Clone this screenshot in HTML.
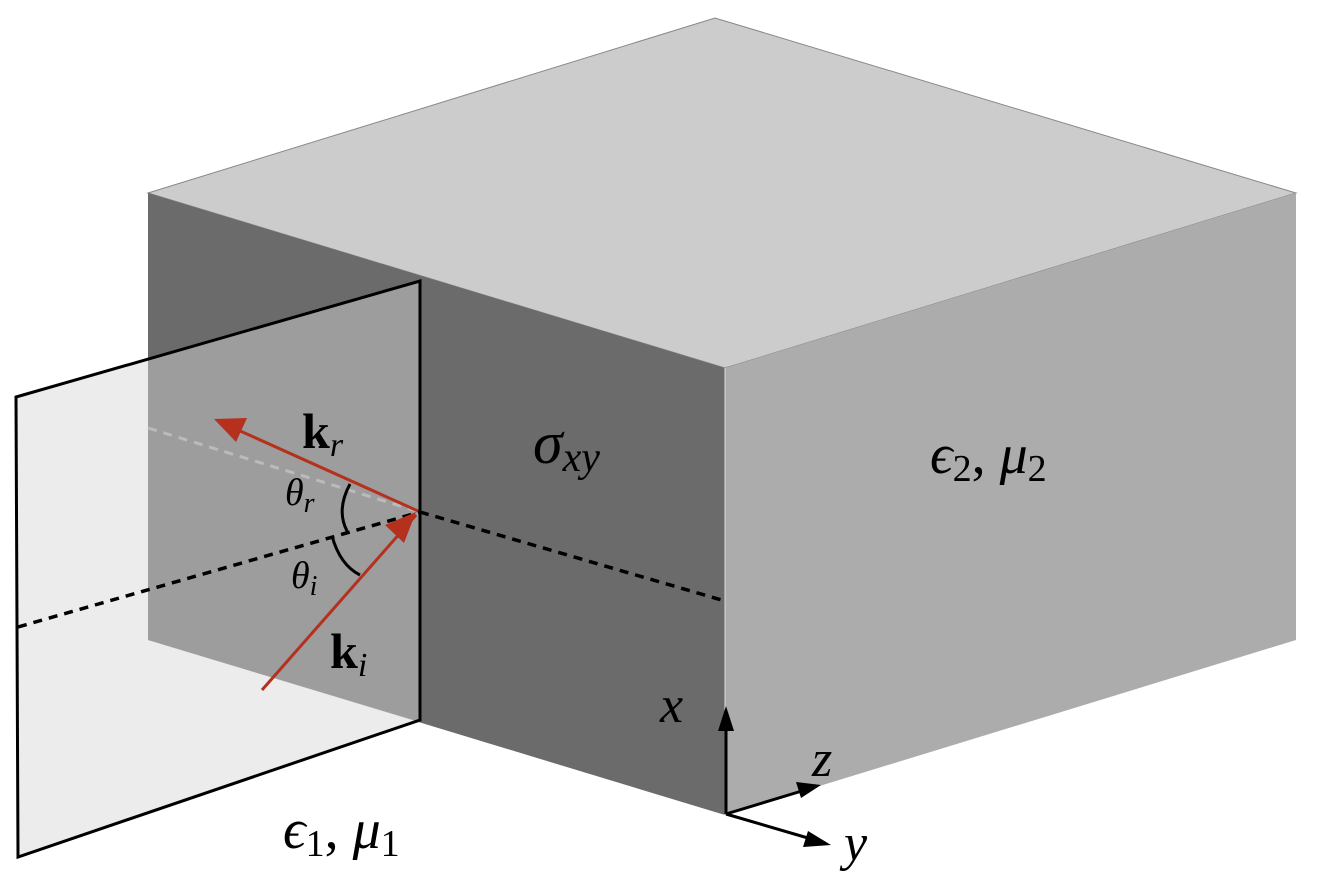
<!DOCTYPE html>
<html><head><style>body{margin:0;background:#fff}svg{display:block}</style></head>
<body>
<svg width="1318" height="891" viewBox="0 0 1318 891" xmlns="http://www.w3.org/2000/svg">
<defs>
<marker id="ar" viewBox="0 0 10 10" refX="9" refY="5" markerWidth="8" markerHeight="8" markerUnits="userSpaceOnUse" orient="auto"><path d="M0,0 L10,5 L0,10 L2.5,5 z" fill="#b5301d"/></marker>
<marker id="ab" viewBox="0 0 10 10" refX="9" refY="5" markerWidth="8" markerHeight="8" orient="auto"><path d="M0,0 L10,5 L0,10 L2.5,5 z" fill="#000"/></marker>
</defs>
<polygon points="148,193 715,18 1296,193 725,368" fill="#cccccc" stroke="#888" stroke-width="1"/>
<polygon points="148,193 725,368 725,815 148,640" fill="#6b6b6b"/>
<polygon points="725,368 1296,193 1296,640 725,815" fill="#acacac"/>
<line x1="725" y1="368" x2="725" y2="815" stroke="#ddd" stroke-width="1"/>
<polygon points="16,397 420,281 420,720 18,857" fill="#e6e6e6" fill-opacity="0.75"/>
<polygon points="148,358 420,281 420,722 148,640" fill="#9d9d9d"/>
<polygon points="16,397 420,281 420,720 18,857" fill="none" stroke="#000" stroke-width="3"/>
<line x1="148" y1="428" x2="420" y2="512" stroke="#bbb" stroke-width="3" stroke-dasharray="9,7"/>
<line x1="18" y1="627" x2="420" y2="512" stroke="#000" stroke-width="3.5" stroke-dasharray="9,7"/>
<line x1="420" y1="512" x2="725" y2="601" stroke="#000" stroke-width="3.5" stroke-dasharray="9,7"/>
<path d="M350,484 Q336,510 347,531" fill="none" stroke="#000" stroke-width="3"/>
<path d="M332,536 Q340,565 360,575" fill="none" stroke="#000" stroke-width="3"/>
<line x1="262" y1="690" x2="416" y2="515" stroke="#b5301d" stroke-width="3"/>
<line x1="418" y1="511" x2="218" y2="421" stroke="#b5301d" stroke-width="3"/>
<polygon points="416,512 404,543 385,525" fill="#b5301d"/>
<polygon points="214,419 247,418 236,442" fill="#b5301d"/>
<line x1="726" y1="814" x2="726" y2="712" stroke="#000" stroke-width="3"/>
<polygon points="726,706 718,731 734,731" fill="#000"/>
<line x1="726" y1="814" x2="815" y2="787" stroke="#000" stroke-width="3"/>
<polygon points="821,785 796,782 801,798" fill="#000"/>
<line x1="726" y1="814" x2="825" y2="843" stroke="#000" stroke-width="3"/>
<polygon points="831,845 808,831 803,847" fill="#000"/>
<g font-family="'Liberation Serif', serif" fill="#000">
<text x="302" y="448" font-size="50" font-weight="bold">k<tspan font-style="italic" font-weight="normal" font-size="34" dy="8">r</tspan></text>
<text x="330" y="668" font-size="50" font-weight="bold">k<tspan font-style="italic" font-weight="normal" font-size="34" dy="8">i</tspan></text>
<text x="285" y="505" font-size="38" font-style="italic">θ<tspan font-size="28" dy="7">r</tspan></text>
<text x="291" y="588" font-size="38" font-style="italic">θ<tspan font-size="28" dy="7">i</tspan></text>
<text x="533" y="463" font-size="60" font-style="italic">σ<tspan font-size="42" dy="8">xy</tspan></text>
<text x="930" y="473" font-size="56" font-style="italic">ϵ<tspan font-style="normal" font-size="38" dy="8">2</tspan><tspan dy="-8" font-style="normal">, </tspan>μ<tspan font-style="normal" font-size="38" dy="8">2</tspan></text>
<text x="283" y="848" font-size="56" font-style="italic">ϵ<tspan font-style="normal" font-size="38" dy="8">1</tspan><tspan dy="-8" font-style="normal">, </tspan>μ<tspan font-style="normal" font-size="38" dy="8">1</tspan></text>
<text x="660" y="722" font-size="52" font-style="italic">x</text>
<text x="812" y="776" font-size="52" font-style="italic">z</text>
<text x="844" y="860" font-size="52" font-style="italic">y</text>
</g>
</svg>
</body></html>
